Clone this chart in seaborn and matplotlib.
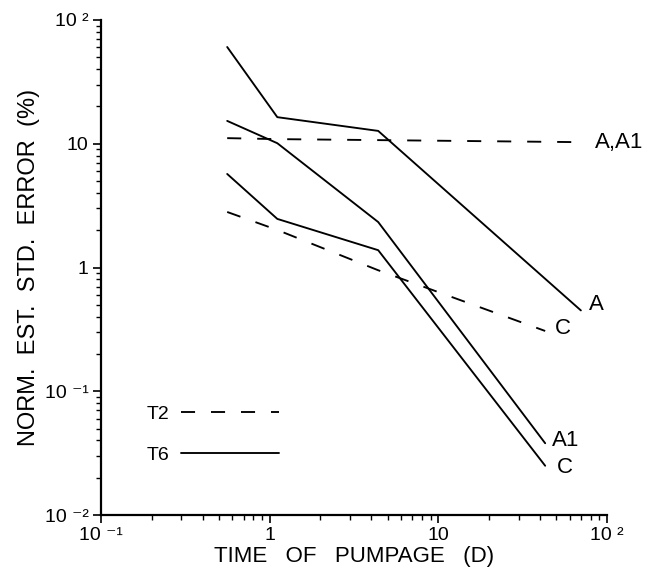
import numpy as np
import pandas as pd
import matplotlib
matplotlib.use('Agg')
import matplotlib.pyplot as plt
from matplotlib.lines import Line2D
from matplotlib.ticker import LogLocator, FixedLocator, NullFormatter
import seaborn as sns

# time of pumpage (days) and normalised error (%)
t_short = [0.56, 1.11, 4.4, 43]
t_long = [0.56, 1.11, 4.4, 70]

t6_a = [60.5, 16.4, 12.7, 0.45]      # solid, ends at 70 d
t6_a1 = [15.3, 10.1, 2.33, 0.038]    # solid, ends at 43 d
t6_c = [5.7, 2.47, 1.38, 0.025]      # solid, ends at 43 d
t2_a_a1 = [11.1, 10.9, 10.7, 10.3]   # dashed, ends at 70 d
t2_c = [2.81, 2.01, 0.95, 0.307]     # dashed, ends at 43 d

x_ticks = [0.1, 1, 10, 100]
x_ticklabels = ['10 \u207b\u00b9', '1', '10', '10 \u00b2']
y_ticks = [0.01, 0.1, 1, 10, 100]
y_ticklabels = ['10 \u207b\u00b2', '10 \u207b\u00b9', '1', '10', '10 \u00b2']

sns.set_style('ticks')
plt.rcParams['font.family'] = ['Liberation Sans', 'DejaVu Sans']
plt.rcParams.update({'text.color': 'black', 'axes.labelcolor': 'black',
                     'xtick.color': 'black', 'ytick.color': 'black'})

DASH = (0, (7.5, 8.5))
LW = 1.35

fig = plt.figure(figsize=(6.48, 5.78), dpi=100)
ax = fig.add_axes([101 / 648, 1 - 515 / 578, 506 / 648, 495 / 578])

series = [
    (t_long, t6_a, '-', 'A', (8, 6)),
    (t_short, t6_a1, '-', 'A1', (7, 3)),
    (t_short, t6_c, '-', 'C', (12, -2)),
    (t_long, t2_a_a1, DASH, 'A,A1', (14, 0)),
    (t_short, t2_c, DASH, 'C', (10, 2)),
]

for xs, ys, ls, lab, off in series:
    df = pd.DataFrame({'t': xs, 'err': ys})
    sns.lineplot(data=df, x='t', y='err', ax=ax, color='black',
                 linestyle=ls, linewidth=LW, legend=False)
    ax.annotate(lab, xy=(xs[-1], ys[-1]), xytext=off, textcoords='offset pixels',
                ha='left', va='center', fontsize=16)

ax.set_xscale('log')
ax.set_yscale('log')
ax.set_xlim(0.1, 100)
ax.set_ylim(0.01, 100)

ax.xaxis.set_major_locator(FixedLocator(x_ticks))
ax.set_xticklabels(x_ticklabels)
ax.yaxis.set_major_locator(FixedLocator(y_ticks))
ax.set_yticklabels(y_ticklabels)
ax.xaxis.set_minor_locator(LogLocator(base=10, subs=np.arange(2, 10), numticks=20))
ax.yaxis.set_minor_locator(LogLocator(base=10, subs=np.arange(2, 10), numticks=20))
ax.xaxis.set_minor_formatter(NullFormatter())
ax.yaxis.set_minor_formatter(NullFormatter())

ax.tick_params(which='major', length=6, width=1.2, labelsize=14, pad=3)
ax.tick_params(which='minor', length=3.5, width=1.0)
sns.despine(ax=ax)
for side in ['left', 'bottom']:
    ax.spines[side].set_linewidth(1.6)
    ax.spines[side].set_color('black')

ax.set_xlabel('TIME   OF   PUMPAGE   (D)', fontsize=16, labelpad=1)
ax.set_ylabel('NORM.  EST.  STD.  ERROR  (%)', fontsize=17, labelpad=3)

handles = [Line2D([], [], color='black', linestyle=DASH, linewidth=LW),
           Line2D([], [], color='black', linestyle='-', linewidth=LW)]
ax.legend(handles, ['T2', 'T6'], loc='upper left', bbox_to_anchor=(0.091, 0.222),
          markerfirst=False, frameon=False, fontsize=14, handlelength=5,
          handletextpad=0.6, labelspacing=1.2, borderpad=0, borderaxespad=0)

fig.savefig('out.png', dpi=100)
plt.close()
